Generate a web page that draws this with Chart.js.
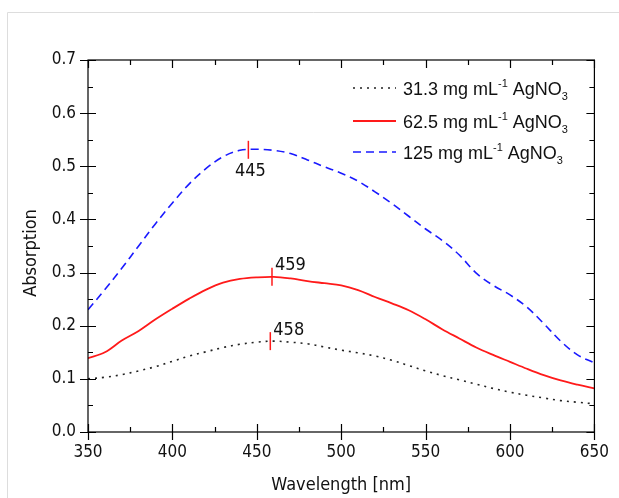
<!DOCTYPE html>
<html>
<head>
<meta charset="utf-8">
<script src="https://cdn.jsdelivr.net/npm/chart.js@4.4.0/dist/chart.umd.min.js"></script>
<style>
  html, body { margin: 0; padding: 0; background: #fff; }
  #wrap { width: 619px; height: 498px; }
</style>
</head>
<body>
<div id="wrap"><canvas id="grafico" width="619" height="498"></canvas></div>
<script>
// wavelength grid (nm)
const WAVELENGTHS = [350, 360, 370, 380, 390, 400, 410, 420, 430, 440, 450,
                     460, 470, 480, 490, 500, 510, 520, 530, 540, 550,
                     560, 570, 580, 590, 600, 610, 620, 630, 640, 650];

const ABS_31 = [0.100, 0.103, 0.108, 0.115, 0.123, 0.133, 0.143, 0.151, 0.159, 0.165, 0.169,
                0.171, 0.169, 0.166, 0.160, 0.154, 0.149, 0.143, 0.135, 0.125, 0.115,
                0.106, 0.098, 0.090, 0.082, 0.075, 0.069, 0.064, 0.059, 0.056, 0.053];

const ABS_62 = [0.139, 0.150, 0.172, 0.190, 0.212, 0.232, 0.251, 0.268, 0.281, 0.288, 0.291,
                0.292, 0.289, 0.284, 0.280, 0.276, 0.267, 0.254, 0.242, 0.229, 0.212,
                0.193, 0.176, 0.159, 0.145, 0.132, 0.119, 0.107, 0.097, 0.089, 0.082];

const ABS_125 = [0.230, 0.268, 0.308, 0.350, 0.392, 0.431, 0.467, 0.496, 0.518, 0.530, 0.532,
                 0.530, 0.524, 0.512, 0.499, 0.487, 0.472, 0.452, 0.430, 0.406, 0.382,
                 0.360, 0.333, 0.299, 0.276, 0.258, 0.235, 0.204, 0.171, 0.145, 0.130];

const SERIES_NAMES = ["31.3", "62.5", "125"];

// peak markers
const PEAK_WL = [458, 459, 445];
const PEAK_ABS = [0.171, 0.292, 0.531];
const PEAK_LABELS = ["458", "459", "445"];

const X_TICKS = [350, 400, 450, 500, 550, 600, 650];
const Y_TICKS = [0.0, 0.1, 0.2, 0.3, 0.4, 0.5, 0.6, 0.7];

const FONTE_EIXO = '"DejaVu Sans Condensed", "DejaVu Sans", sans-serif';
const FONTE_LEGENDA = '"Liberation Sans", Arial, sans-serif';

function pontos(valores) {
    return WAVELENGTHS.map((w, i) => ({ x: w, y: valores[i] }));
}

const estilos = [
    { color: "#222222", dash: [2, 5], width: 1.6 },
    { color: "#ff1a1a", dash: [], width: 1.8 },
    { color: "#1a1aff", dash: [8, 5], width: 1.6 }
];

// moldura, ticks, marcadores de pico, titulos e legenda
const extras = {
    id: "extras",
    afterDraw(chart) {
        const ctx = chart.ctx;
        const a = chart.chartArea;
        const xs = chart.scales.x;
        const ys = chart.scales.y;
        ctx.save();

        // borda clara externa
        ctx.strokeStyle = "#dddddd";
        ctx.lineWidth = 1;
        ctx.beginPath();
        ctx.moveTo(7.5, 700);
        ctx.lineTo(7.5, 12.5);
        ctx.lineTo(700, 12.5);
        ctx.stroke();

        // caixa do grafico
        ctx.strokeStyle = "#000";
        ctx.lineWidth = 1.2;
        ctx.strokeRect(a.left, a.top, a.right - a.left, a.bottom - a.top);

        ctx.beginPath();
        for (let w = 350; w <= 650; w += 25) {
            const px = Math.round(xs.getPixelForValue(w)) + 0.5;
            const major = (w % 50 === 0);
            if (major) {
                ctx.moveTo(px, a.bottom + 8); ctx.lineTo(px, a.bottom - 8);
                ctx.moveTo(px, a.top); ctx.lineTo(px, a.top + 8);
            } else {
                ctx.moveTo(px, a.bottom); ctx.lineTo(px, a.bottom - 5);
                ctx.moveTo(px, a.top); ctx.lineTo(px, a.top + 5);
            }
        }
        for (let k = 0; k <= 14; k++) {
            const v = k * 0.05;
            const py = Math.round(ys.getPixelForValue(v)) + 0.5;
            if (k % 2 === 0) {
                ctx.moveTo(a.left - 8, py); ctx.lineTo(a.left + 8, py);
                ctx.moveTo(a.right, py); ctx.lineTo(a.right - 8, py);
            } else {
                ctx.moveTo(a.left, py); ctx.lineTo(a.left + 5, py);
                ctx.moveTo(a.right, py); ctx.lineTo(a.right - 5, py);
            }
        }
        ctx.stroke();

        // marcadores de pico
        ctx.strokeStyle = "#ff1a1a";
        ctx.lineWidth = 1.5;
        ctx.fillStyle = "#111";
        ctx.font = "18px " + FONTE_EIXO;
        PEAK_WL.forEach((w, i) => {
            const px = xs.getPixelForValue(w);
            const py = ys.getPixelForValue(PEAK_ABS[i]);
            ctx.beginPath();
            ctx.moveTo(px, py - 9);
            ctx.lineTo(px, py + 9);
            ctx.stroke();
            if (i === 2) {
                ctx.textAlign = "center";
                ctx.textBaseline = "middle";
                ctx.fillText(PEAK_LABELS[i], px + 2, py + 22);
            } else {
                ctx.textAlign = "left";
                ctx.textBaseline = "middle";
                ctx.fillText(PEAK_LABELS[i], px + 3, py - 11);
            }
        });

        // titulos dos eixos
        ctx.fillStyle = "#111";
        ctx.font = "18px " + FONTE_EIXO;
        ctx.textAlign = "center";
        ctx.textBaseline = "middle";
        ctx.fillText("Wavelength [nm]", (a.left + a.right) / 2, 485);
        ctx.save();
        ctx.translate(31, 253);
        ctx.rotate(-Math.PI / 2);
        ctx.fillText("Absorption", 0, 0);
        ctx.restore();

        // legenda
        const linhasY = [88, 121, 152];
        SERIES_NAMES.forEach((nome, i) => {
            const e = estilos[i];
            const y = linhasY[i];
            ctx.strokeStyle = e.color;
            ctx.lineWidth = e.width;
            ctx.setLineDash(e.dash);
            ctx.beginPath();
            ctx.moveTo(353, y);
            ctx.lineTo(396, y);
            ctx.stroke();
            ctx.setLineDash([]);

            ctx.fillStyle = "#111";
            ctx.textAlign = "left";
            ctx.textBaseline = "alphabetic";
            let x = 403;
            const base = y + 7;
            ctx.font = "18px " + FONTE_LEGENDA;
            const t1 = nome + " mg mL";
            ctx.fillText(t1, x, base);
            x += ctx.measureText(t1).width;
            ctx.font = "11px " + FONTE_LEGENDA;
            ctx.fillText("-1", x, base - 8);
            x += ctx.measureText("-1").width;
            ctx.font = "18px " + FONTE_LEGENDA;
            const t2 = " AgNO";
            ctx.fillText(t2, x, base);
            x += ctx.measureText(t2).width;
            ctx.font = "11px " + FONTE_LEGENDA;
            ctx.fillText("3", x, base + 5);
        });

        ctx.restore();
    }
};

const ctx = document.getElementById("grafico").getContext("2d");

new Chart(ctx, {
    type: "line",
    data: {
        datasets: [ABS_31, ABS_62, ABS_125].map((valores, i) => ({
            label: SERIES_NAMES[i],
            data: pontos(valores),
            borderColor: estilos[i].color,
            borderDash: estilos[i].dash,
            borderWidth: estilos[i].width,
            pointRadius: 0,
            tension: 0.35,
            fill: false
        }))
    },
    options: {
        responsive: false,
        animation: false,
        layout: { padding: { left: 0, top: 60, right: 24, bottom: 0 } },
        plugins: {
            legend: { display: false },
            tooltip: { enabled: false }
        },
        scales: {
            x: {
                type: "linear",
                min: 350,
                max: 650,
                afterBuildTicks: (s) => { s.ticks = X_TICKS.map(v => ({ value: v })); },
                afterFit: (s) => { s.height = 66; },
                grid: { display: false, drawTicks: false },
                border: { display: false },
                ticks: {
                    padding: 10,
                    color: "#111",
                    font: { family: FONTE_EIXO, size: 17 },
                    maxRotation: 0,
                    callback: (v) => v.toFixed(0)
                }
            },
            y: {
                type: "linear",
                min: 0,
                max: 0.7,
                afterBuildTicks: (s) => { s.ticks = Y_TICKS.map(v => ({ value: v })); },
                afterFit: (s) => { s.width = 88; },
                grid: { display: false, drawTicks: false },
                border: { display: false },
                ticks: {
                    padding: 12,
                    color: "#111",
                    font: { family: FONTE_EIXO, size: 17 },
                    callback: (v) => v.toFixed(1)
                }
            }
        }
    },
    plugins: [extras]
});
</script>
</body>
</html>
